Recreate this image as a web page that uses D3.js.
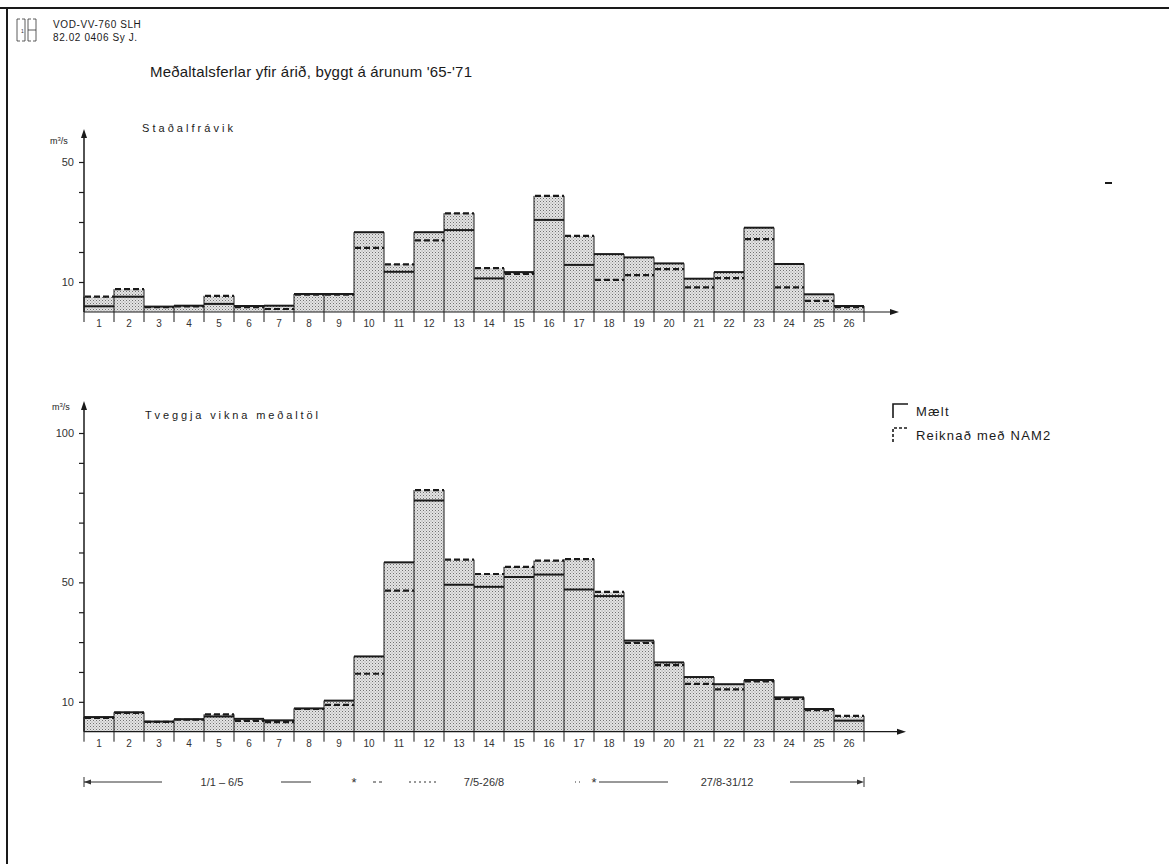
<!DOCTYPE html>
<html><head><meta charset="utf-8">
<script src="https://cdn.jsdelivr.net/npm/d3@7"></script>
<style>
body{margin:0;background:#fff;}
svg{display:block;font-family:"Liberation Sans","DejaVu Sans",sans-serif;}
</style></head>
<body>
<svg id="c" width="1169" height="864"></svg>
<script>
// ---- data ----
const periods = d3.range(1, 27);
const stdMeasured  = [1.9, 5.1, 1.8, 2.1, 2.7, 2.0, 2.1, 6.0, 6.0, 26.6, 13.4, 26.6, 27.3, 11.2, 13.3, 30.7, 15.7, 19.3, 18.2, 16.2, 11.1, 13.3, 28.1, 16.0, 5.9, 2.0];
const stdComputed  = [5.1, 7.6, 1.6, 1.9, 5.4, 1.6, 1.0, 5.8, 5.8, 21.4, 15.9, 23.9, 32.9, 14.6, 12.7, 38.7, 25.4, 10.7, 12.3, 14.3, 8.2, 11.3, 24.3, 8.2, 3.7, 1.6];
const meanMeasured = [4.9, 6.5, 3.4, 4.2, 5.1, 4.3, 3.8, 7.8, 10.4, 25.2, 56.7, 77.4, 49.2, 48.5, 51.8, 52.6, 47.6, 45.4, 30.5, 23.2, 18.3, 15.9, 17.3, 11.5, 7.6, 3.7];
const meanComputed = [4.6, 6.3, 3.3, 4.0, 5.8, 3.6, 3.2, 7.6, 9.0, 19.4, 47.2, 80.9, 57.6, 52.8, 55.2, 57.3, 57.8, 46.8, 29.7, 22.3, 16.0, 14.2, 16.8, 11.0, 7.2, 5.3];
const topTicks = [10, 20, 30, 40, 50];
const topTickLabels = [10, 50];
const botTicks = [10, 20, 30, 40, 50, 60, 70, 80, 90, 100];
const botTickLabels = [10, 50, 100];
const rangeLabels = ["1/1 – 6/5", "7/5-26/8", "27/8-31/12"];
const rangeBreaks = [0, 9, 17, 26];
const legendLabels = ["Mælt", "Reiknað með NAM2"];

const svg = d3.select("#c");
const ink = "#1a1a1a";

// stipple pattern
const defs = svg.append("defs");
const pat = defs.append("pattern").attr("id","stip").attr("width",3).attr("height",3).attr("patternUnits","userSpaceOnUse");
pat.append("rect").attr("width",3).attr("height",3).attr("fill","#e4e4e4");
pat.append("rect").attr("x",0).attr("y",0).attr("width",1).attr("height",1).attr("fill","#707070");
pat.append("rect").attr("x",1.5).attr("y",1.5).attr("width",1).attr("height",1).attr("fill","#959595");

// frame
svg.append("line").attr("x1",0).attr("x2",1169).attr("y1",8).attr("y2",8).attr("stroke",ink).attr("stroke-width",2);
svg.append("line").attr("x1",7).attr("x2",7).attr("y1",8).attr("y2",864).attr("stroke",ink).attr("stroke-width",2);
svg.append("line").attr("x1",1105).attr("x2",1112).attr("y1",183).attr("y2",183).attr("stroke",ink).attr("stroke-width",2);

// header stamp
const hd = svg.append("g").attr("stroke","#333").attr("fill","none").attr("stroke-width",0.8);
hd.append("path").attr("d","M20,19 L17,19 L17,41 L20,41 M22,19 L25,19 L25,41 L22,41");
hd.append("path").attr("d","M31,19 L28,19 L28,41 L31,41 M33,19 L36,19 L36,41 L33,41 M28,30 L36,30");
svg.append("text").attr("x",21).attr("y",33).attr("font-size",5).attr("fill","#333").text("1");
svg.append("text").attr("x",53).attr("y",28).attr("font-size",10).attr("fill",ink).attr("letter-spacing",0.6).text("VOD-VV-760 SLH");
svg.append("text").attr("x",53).attr("y",41).attr("font-size",10).attr("fill",ink).attr("letter-spacing",0.6).text("82.02 0406 Sy J.");

// title
svg.append("text").attr("x",150).attr("y",77).attr("font-size",15).attr("fill",ink)
  .attr("textLength",322).attr("lengthAdjust","spacing")
  .text("Meðaltalsferlar yfir árið, byggt á árunum '65-'71");

const x = d3.scaleBand().domain(periods).range([84, 864]).paddingInner(0).paddingOuter(0);

function panel(cfg){
  const y = d3.scaleLinear().domain([0, cfg.max]).range([cfg.base, cfg.top]);
  const g = svg.append("g");
  const data = periods.map((p,i)=>({p, m: cfg.meas[i], c: cfg.comp[i]}));
  g.selectAll("rect.bar").data(data).join("rect").attr("class","bar")
    .attr("x", d=>x(d.p)).attr("width", x.bandwidth())
    .attr("y", d=>y(Math.max(d.m,d.c))).attr("height", d=>cfg.base - y(Math.max(d.m,d.c)))
    .attr("fill","url(#stip)");
  g.selectAll("line.side").data(data).join("line").attr("class","side")
    .attr("x1", d=>x(d.p)).attr("x2", d=>x(d.p))
    .attr("y1", cfg.base).attr("y2", (d,i)=> y(Math.max(d.m,d.c, i>0 ? Math.max(data[i-1].m,data[i-1].c):0)))
    .attr("stroke", ink).attr("stroke-width",1);
  const last = data[data.length-1];
  g.append("line").attr("x1", x(last.p)+x.bandwidth()).attr("x2", x(last.p)+x.bandwidth())
    .attr("y1", cfg.base).attr("y2", y(Math.max(last.m,last.c))).attr("stroke",ink).attr("stroke-width",1);
  g.selectAll("line.meas").data(data).join("line").attr("class","meas")
    .attr("x1", d=>x(d.p)).attr("x2", d=>x(d.p)+x.bandwidth())
    .attr("y1", d=>y(d.m)).attr("y2", d=>y(d.m))
    .attr("stroke", ink).attr("stroke-width",2);
  g.selectAll("line.comp").data(data).join("line").attr("class","comp")
    .attr("x1", d=>x(d.p)+1).attr("x2", d=>x(d.p)+x.bandwidth())
    .attr("y1", d=>y(d.c)).attr("y2", d=>y(d.c))
    .attr("stroke", ink).attr("stroke-width",2.2).attr("stroke-dasharray","6,3");
  g.append("line").attr("x1",84).attr("x2",cfg.xEnd).attr("y1",cfg.base).attr("y2",cfg.base).attr("stroke",ink).attr("stroke-width",1.2);
  g.append("path").attr("d",`M${cfg.xEnd+6},${cfg.base} L${cfg.xEnd-3},${cfg.base-3} L${cfg.xEnd-3},${cfg.base+3} Z`).attr("fill",ink);
  const bounds = periods.map(p=>x(p)).concat([864]);
  g.selectAll("line.xt").data(bounds).join("line").attr("class","xt")
    .attr("x1",d=>d).attr("x2",d=>d).attr("y1",cfg.base).attr("y2",cfg.base+10)
    .attr("stroke",ink).attr("stroke-width",1);
  g.selectAll("text.xl").data(periods).join("text").attr("class","xl")
    .attr("x", d=>x(d)+x.bandwidth()/2).attr("y", cfg.base+15)
    .attr("text-anchor","middle").attr("font-size",10).attr("fill","#333").text(d=>d);
  const ax = d3.axisLeft(y).tickValues(cfg.ticks).tickSize(5)
    .tickFormat(d => cfg.labels.includes(d) ? d : "");
  const ag = g.append("g").attr("transform","translate(84,0)").call(ax);
  ag.select(".domain").remove();
  ag.selectAll("line").attr("stroke",ink).attr("stroke-width",1.2);
  ag.selectAll("text").attr("font-size",11).attr("fill","#333").attr("font-family","Liberation Sans, sans-serif").attr("x",-10);
  g.append("line").attr("x1",84).attr("x2",84).attr("y1",cfg.base).attr("y2",cfg.arrowTop+4).attr("stroke",ink).attr("stroke-width",1.5);
  g.append("path").attr("d",`M84,${cfg.arrowTop-4} L81,${cfg.arrowTop+5} L87,${cfg.arrowTop+5} Z`).attr("fill",ink);
  const u = g.append("text").attr("x",cfg.unitX).attr("y",cfg.unitY).attr("font-size",9).attr("fill",ink);
  u.append("tspan").text("m");
  u.append("tspan").attr("font-size",6).attr("dy",-3).text("3");
  u.append("tspan").attr("dy",3).text("/s");
  g.append("text").attr("x",cfg.subX).attr("y",cfg.subY).attr("font-size",11).attr("fill",ink)
    .attr("textLength",cfg.subLen).attr("lengthAdjust","spacing").text(cfg.sub);
}

panel({max:50, base:312, top:162, meas:stdMeasured, comp:stdComputed, ticks:topTicks, labels:topTickLabels,
  arrowTop:133, xEnd:893, unitX:50, unitY:144, sub:"Staðalfrávik", subX:142, subY:132, subLen:91});
panel({max:100, base:731.7, top:433, meas:meanMeasured, comp:meanComputed, ticks:botTicks, labels:botTickLabels,
  arrowTop:405, xEnd:900, unitX:52, unitY:410, sub:"Tveggja vikna meðaltöl", subX:145, subY:419, subLen:173});

// legend
const lg = svg.append("g");
lg.append("path").attr("d","M893,418 L893,404 L908,404").attr("fill","none").attr("stroke",ink).attr("stroke-width",1.6);
lg.append("path").attr("d","M893,442 L893,428 L908,428").attr("fill","none").attr("stroke",ink).attr("stroke-width",1.6).attr("stroke-dasharray","3,2");
lg.selectAll("text").data(legendLabels).join("text")
  .attr("x",916).attr("y",(d,i)=>416+i*24).attr("font-size",13).attr("fill",ink).attr("letter-spacing",1.2).text(d=>d);

// period ranges
const ry = 782;
const rg = svg.append("g").attr("stroke","#333").attr("stroke-width",1);
const bxs = rangeBreaks.map(b => b===26 ? 864 : x(b+1));
rg.append("line").attr("x1",bxs[0]).attr("x2",bxs[0]).attr("y1",ry-5).attr("y2",ry+5);
rg.append("line").attr("x1",bxs[3]).attr("x2",bxs[3]).attr("y1",ry-5).attr("y2",ry+5);
svg.append("path").attr("d",`M${bxs[0]},${ry} L${bxs[0]+7},${ry-2.5} L${bxs[0]+7},${ry+2.5} Z`).attr("fill","#333");
svg.append("path").attr("d",`M${bxs[3]},${ry} L${bxs[3]-7},${ry-2.5} L${bxs[3]-7},${ry+2.5} Z`).attr("fill","#333");
[bxs[1], bxs[2]].forEach(bv=>{
  svg.append("text").attr("x",bv).attr("y",ry+5).attr("text-anchor","middle").attr("font-size",13).attr("fill","#333").text("*");
});
const segs = [[bxs[0],162,"none"],[281,311,"none"],[373,384,"3,3"],[409,436,"2,3"],[575,583,"1,3"],[bxs[2]+5,668,"none"],[790,bxs[3]-4,"none"]];
segs.forEach(s=>rg.append("line").attr("x1",s[0]).attr("x2",s[1]).attr("y1",ry).attr("y2",ry).attr("stroke-dasharray",s[2]));
const rx = [222, 484, 727];
svg.selectAll("text.rl").data(rangeLabels).join("text").attr("class","rl")
  .attr("x",(d,i)=>rx[i]).attr("y",ry+4).attr("text-anchor","middle").attr("font-size",11).attr("fill","#333").text(d=>d);
</script>
</body></html>
